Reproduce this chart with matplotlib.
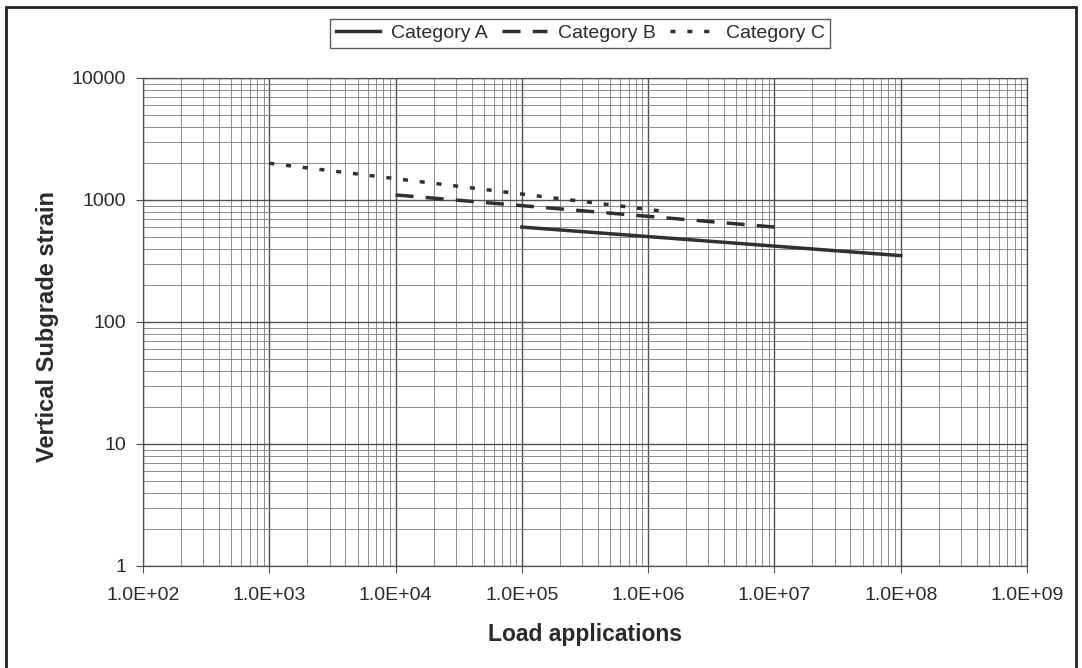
import matplotlib
matplotlib.use("Agg")
import matplotlib.pyplot as plt
import matplotlib.ticker as mticker
from matplotlib.patches import Rectangle

plt.rcParams['font.family'] = ['Liberation Sans', 'DejaVu Sans']

categories = ["Category A", "Category B", "Category C"]
load_a = [1e5, 1e8]
strain_a = [600, 350]
load_b = [1e4, 1e7]
strain_b = [1100, 600]
load_c = [1e3, 1.3e6]
strain_c = [2000, 810]

fig = plt.figure(figsize=(10.82, 6.68), dpi=100)
ax = fig.add_axes([143/1082, 1-566/668, 884/1082, 488/668])

ax.plot(load_a, strain_a, color='#303030', lw=2.5, linestyle='-', label=categories[0])
ax.plot(load_b, strain_b, color='#303030', lw=2.5, linestyle=(0, (5.2, 3.5)), label=categories[1])
ax.plot(load_c, strain_c, color='#303030', lw=2.5, linestyle=(0, (1.45, 3.4)), label=categories[2])

ax.set_xscale('log')
ax.set_yscale('log')
ax.set_xlim(1e2, 1e9)
ax.set_ylim(1, 1e4)

ax.xaxis.set_major_locator(mticker.LogLocator(base=10, numticks=20))
ax.xaxis.set_minor_locator(mticker.LogLocator(base=10, subs=range(2, 10), numticks=100))
ax.yaxis.set_major_locator(mticker.LogLocator(base=10, numticks=20))
ax.yaxis.set_minor_locator(mticker.LogLocator(base=10, subs=range(2, 10), numticks=100))
ax.xaxis.set_major_formatter(mticker.FuncFormatter(lambda v, p: "%.1E" % v))
ax.yaxis.set_major_formatter(mticker.FuncFormatter(lambda v, p: "%d" % round(v)))
ax.xaxis.set_minor_formatter(mticker.NullFormatter())
ax.yaxis.set_minor_formatter(mticker.NullFormatter())

ax.grid(True, which='major', color='#505050', lw=1.0)
ax.grid(True, which='minor', color='#7a7a7a', lw=0.6)
ax.set_axisbelow(True)
for s in ax.spines.values():
    s.set_color('#505050')
    s.set_linewidth(0.9)
ax.tick_params(which='major', length=5, color='#505050', labelsize=14, labelcolor='#2a2a2a')
ax.tick_params(axis='x', pad=10)
ax.tick_params(axis='y', pad=7)
ax.tick_params(which='minor', length=0)

fig.text(585/1082, 1-635/668, "Load applications", fontsize=16.5, fontweight='bold',
         color='#2a2a2a', ha='center', va='center')
fig.text(48/1082, 1-327/668, "Vertical Subgrade strain", fontsize=17, fontweight='bold',
         color='#2a2a2a', ha='center', va='center', rotation=90)

leg = fig.legend(loc='center', bbox_to_anchor=(580/1082, 1-33.5/668), ncol=3, frameon=True,
                 fancybox=False, edgecolor='#333333', fontsize=14, handlelength=2.3,
                 columnspacing=0.75, handletextpad=0.55, borderpad=0.28, borderaxespad=0)
leg.get_frame().set_linewidth(1.0)
for t in leg.get_texts():
    t.set_color('#2a2a2a')

fig.patches.append(Rectangle((6/1082, -10/668), 1070/1082, 671/668, transform=fig.transFigure,
                             fill=False, edgecolor='#222222', lw=2.0))

fig.savefig("out.png", dpi=100)
